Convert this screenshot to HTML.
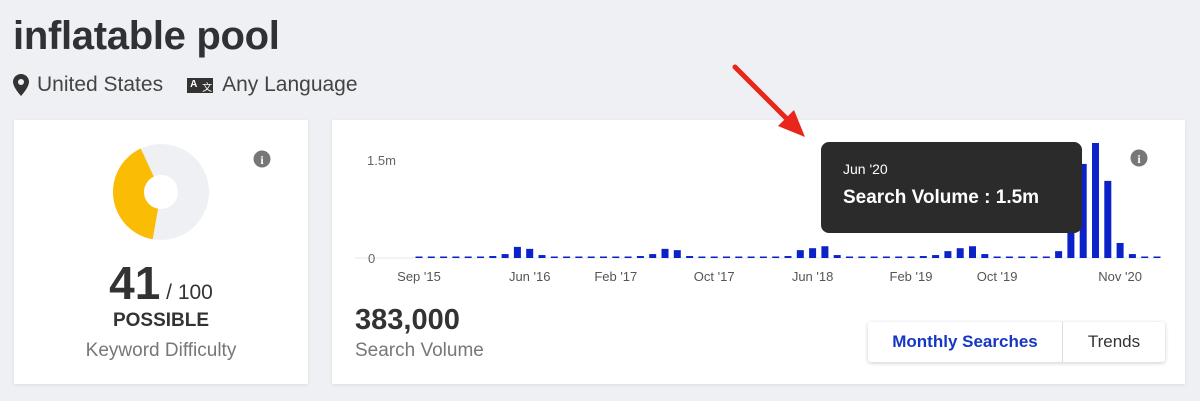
<!DOCTYPE html>
<html><head><meta charset="utf-8"><style>
body{margin:0;width:1200px;height:401px;background:#eff0f4;font-family:"Liberation Sans",sans-serif;position:relative;overflow:hidden}
.abs{position:absolute}
.card{position:absolute;background:#fff;box-shadow:0 1px 4px rgba(0,0,0,.08)}
</style></head><body>
<div class="abs" style="left:13px;top:14px;font-size:40px;font-weight:bold;color:#2f3136;letter-spacing:-0.3px">inflatable pool</div>
<div class="abs" style="left:13px;top:73px;font-size:21px;color:#444;display:flex;align-items:center">
<svg width="16" height="22" viewBox="0 0 16 22"><path d="M8 0C3.6 0 0 3.5 0 7.8 0 13.5 8 22 8 22s8-8.5 8-14.2C16 3.5 12.4 0 8 0z" fill="#333"/><circle cx="8" cy="8" r="3" fill="#eff0f4"/></svg>
<span style="margin-left:8px">United States</span>
<span style="margin-left:24px;display:inline-block;width:26px;height:15px;background:#333;position:relative"><span style="position:absolute;left:3px;top:1px;font-size:10px;color:#fff;font-weight:bold">A</span><span style="position:absolute;left:15px;top:1px;font-size:10px;color:#fff">文</span></span>
<span style="margin-left:9px">Any Language</span></div>

<div class="card" style="left:14px;top:120px;width:294px;height:264px">
<svg class="abs" style="left:0;top:0" width="294" height="264">
<circle cx="147" cy="72" r="32.5" fill="none" stroke="#eef0f3" stroke-width="31"/>
<path id="yl" fill="#fbbc05"/>
<circle cx="147" cy="72" r="16" fill="#fff"/>
<circle cx="248" cy="39" r="8.5" fill="#777"/>
<text x="248" y="44" font-size="12" font-weight="bold" fill="#fff" text-anchor="middle" font-family="Liberation Serif">i</text>
</svg>
<div class="abs" style="left:0;width:294px;top:136px;text-align:center;color:#333"><span style="font-size:46px;font-weight:bold">41</span><span style="font-size:21px"> / 100</span></div>
<div class="abs" style="left:0;width:294px;top:190px;text-align:center;font-size:19px;font-weight:bold;color:#333">POSSIBLE</div>
<div class="abs" style="left:0;width:294px;top:220px;text-align:center;font-size:19px;color:#777">Keyword Difficulty</div>
</div>

<div class="card" style="left:332px;top:120px;width:853px;height:264px">
<svg class="abs" id="chart" style="left:0;top:0" width="853" height="264"></svg>
<div class="abs" style="left:23px;top:184px;font-size:29px;font-weight:bold;color:#333">383,000</div>
<div class="abs" style="left:23px;top:220px;font-size:19px;color:#777">Search Volume</div>
<div class="abs" style="left:536px;top:202px;width:297px;height:40px;background:#fff;box-shadow:0 1px 4px rgba(0,0,0,.2);border-radius:3px;display:flex;font-size:17px;line-height:40px">
<div style="width:194px;text-align:center;color:#1637c4;font-weight:bold;border-right:1px solid #ddd">Monthly Searches</div>
<div style="flex:1;text-align:center;color:#333">Trends</div></div>
<svg class="abs" style="left:798px;top:29px" width="18" height="18"><circle cx="9" cy="9" r="8.5" fill="#777"/><text x="9" y="14" font-size="12" font-weight="bold" fill="#fff" text-anchor="middle" font-family="Liberation Serif">i</text></svg>
<div class="abs" style="left:489px;top:22px;width:261px;height:91px;background:#2b2b2b;border-radius:8px;color:#fff">
<div style="position:absolute;left:22px;top:19px;font-size:14px">Jun '20</div>
<div style="position:absolute;left:22px;top:45px;font-size:19px;font-weight:bold">Search Volume : 1.5m</div></div>
</div>

<svg class="abs" style="left:0;top:0" width="1200" height="401">
<line x1="735" y1="67" x2="790" y2="122" stroke="#e8261c" stroke-width="5" stroke-linecap="round"/>
<polygon points="805,137 778,126 794,110" fill="#e8261c"/></svg>

<script>
(function(){
 var cx=147,cy=72,R=48,r=17,a0=190,a1=335;
 function p(a,rr){var t=(a-90)*Math.PI/180;return [cx+rr*Math.cos(t),cy+rr*Math.sin(t)];}
 var A=p(a0,R),B=p(a1,R),C=p(a1,r),D=p(a0,r);
 document.getElementById('yl').setAttribute('d','M'+A+' A'+R+' '+R+' 0 0 1 '+B+' L'+C+' A'+r+' '+r+' 0 0 0 '+D+' Z');
})();
</script>
<script>
// monthly search volume (thousands)
const volumes=[15,15,15,15,15,15,30,60,170,140,45,15,15,15,15,15,15,15,30,60,140,120,30,15,15,15,15,15,15,15,30,120,150,180,45,15,15,15,15,15,15,30,45,105,150,180,60,15,15,15,15,15,105,920,1440,1760,1180,230,60,15,15];
const tickIndex=[0,9,16,24,32,40,47,57];
const tickLabels=["Sep '15","Jun '16","Feb '17","Oct '17","Jun '18","Feb '19","Oct '19","Nov '20"];
const yTicks=[0,1500];
const yTickLabels=["0","1.5m"];
(function(){
 var svg=document.getElementById('chart'),NS='http://www.w3.org/2000/svg';
 var base=138,x0=87,step=12.3,bw=7,kpx=98/1500;
 function X(i){return x0+i*step;}
 function Y(v){return base-v*kpx;}
 function mk(t,a){var e=document.createElementNS(NS,t);for(var k in a)e.setAttribute(k,a[k]);svg.appendChild(e);return e;}
 var g=mk('line',{x1:23,x2:828,y1:base,y2:base,stroke:'#e8e8e8','stroke-width':1});
 
 
 yTicks.forEach(function(v,i){
  var t=mk('text',{x:i==0?36:35,y:Y(v)+5,'font-size':13,fill:'#666','font-family':'Liberation Sans'});
  t.textContent=yTickLabels[i];
  
  
 });
 volumes.forEach(function(v,i){
  var h=Math.max(1.5,v*kpx);
  var b=mk('rect',{x:X(i)-bw/2,y:base-h,width:bw,height:h,fill:'#0a22c8'});
  
  
 });
 tickIndex.forEach(function(ix,i){
  var t=mk('text',{x:X(ix),y:base+23,'font-size':13,fill:'#555','text-anchor':'middle','font-family':'Liberation Sans'});
  t.textContent=tickLabels[i];
  
  
 });
})();
</script>
</body></html>
